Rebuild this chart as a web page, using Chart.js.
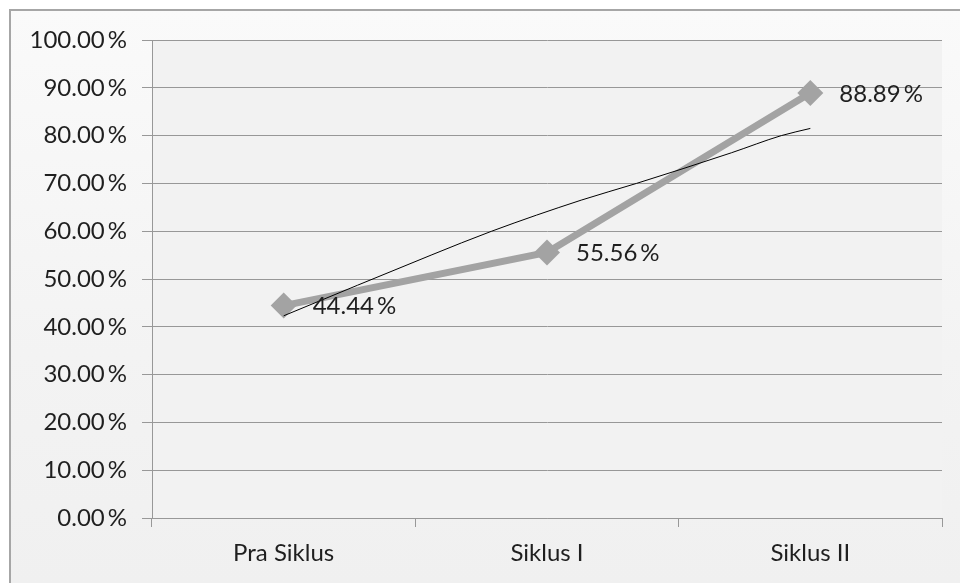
<!DOCTYPE html>
<html>
<head>
<meta charset="utf-8">
<style>
  html, body { margin: 0; padding: 0; background: #ffffff; }
  #wrap { width: 960px; height: 583px; position: relative; }
</style>
<script src="https://cdn.jsdelivr.net/npm/chart.js@4/dist/chart.umd.min.js"></script>
</head>
<body>
<div id="wrap"><canvas id="chart" width="960" height="583"></canvas></div>
<script>
// Learning-completeness percentage per cycle
const categories = ['Pra Siklus', 'Siklus I', 'Siklus II'];
const percentages = [44.44, 55.56, 88.89];

// Trend line traced along the cycles (x = cycle position, y = percent)
const trendX = [0, 0.56, 0.79, 1.13, 1.34, 1.70, 1.89, 2.0];
const trendY = [42.3, 55.0, 60.0, 66.5, 70.0, 76.4, 80.0, 81.5];

// Y-axis ticks in percent
const yTicks = [0, 10, 20, 30, 40, 50, 60, 70, 80, 90, 100];

const FONT = 'Lato, "Open Sans", sans-serif';
const TEXT = '#1f1f1f';
const GRID = '#989898';

const backdrop = {
  id: 'backdrop',
  beforeDraw(chart) {
    const { ctx, chartArea: a } = chart;
    ctx.save();
    ctx.fillStyle = '#ffffff';
    ctx.fillRect(0, 0, chart.width, chart.height);
    const g = ctx.createLinearGradient(0, 10, 0, chart.height);
    g.addColorStop(0, '#fafafa');
    g.addColorStop(0.6, '#f3f3f3');
    g.addColorStop(1, '#f0f0f0');
    ctx.fillStyle = g;
    ctx.fillRect(10, 10, chart.width, chart.height);
    ctx.strokeStyle = '#a6a6a6';
    ctx.lineWidth = 2;
    ctx.strokeRect(10, 10, chart.width + 10, chart.height + 10);
    ctx.fillStyle = '#f2f2f2';
    ctx.fillRect(a.left, a.top, a.right - a.left, a.bottom - a.top);
    ctx.restore();
  }
};

const valueLabels = {
  id: 'valueLabels',
  afterDatasetsDraw(chart) {
    const { ctx } = chart;
    const meta = chart.getDatasetMeta(0);
    ctx.save();
    ctx.font = '24px ' + FONT;
    ctx.fillStyle = TEXT;
    ctx.textAlign = 'left';
    ctx.textBaseline = 'middle';
    meta.data.forEach((pt, i) => {
      ctx.fillText(percentages[i].toFixed(2) + '\u2009%', pt.x + 29, pt.y + 1);
    });
    ctx.restore();
  }
};

new Chart(document.getElementById('chart'), {
  type: 'line',
  data: {
    labels: categories,
    datasets: [
      {
        label: 'Ketuntasan',
        data: percentages,
        borderColor: '#a3a3a3',
        backgroundColor: '#a3a3a3',
        borderWidth: 7,
        pointStyle: 'rectRot',
        pointRadius: 13,
        pointBorderWidth: 0,
        pointBackgroundColor: '#a3a3a3',
        tension: 0,
        order: 1
      },
      {
        label: 'Trend',
        data: trendX.map((x, i) => ({ x: x, y: trendY[i] })),
        xAxisID: 'xt',
        borderColor: '#000000',
        borderWidth: 1,
        pointRadius: 0,
        cubicInterpolationMode: 'monotone',
        order: 0
      }
    ]
  },
  options: {
    responsive: false,
    animation: false,
    layout: { padding: { left: 0, top: 40, right: 18, bottom: 0 } },
    plugins: { legend: { display: false }, tooltip: { enabled: false } },
    scales: {
      x: {
        type: 'category',
        offset: true,
        grid: {
          offset: true,
          drawOnChartArea: false,
          drawTicks: true,
          tickLength: 9,
          color: GRID,
          lineWidth: 1
        },
        border: { display: true, color: GRID, width: 1 },
        ticks: { color: TEXT, font: { family: FONT, size: 24 }, padding: 12, maxRotation: 0 },
        afterFit(s) { s.height = 65; }
      },
      xt: {
        type: 'linear',
        display: false,
        min: -0.5,
        max: 2.5
      },
      y: {
        min: 0,
        max: 100,
        afterBuildTicks(s) { s.ticks = yTicks.map(v => ({ value: v })); },
        grid: { color: GRID, lineWidth: 1, tickLength: 10, drawTicks: true },
        border: { display: true, color: GRID, width: 1 },
        ticks: {
          color: TEXT,
          font: { family: FONT, size: 24 },
          padding: 15,
          callback: v => v.toFixed(2) + '\u2009%'
        },
        afterFit(s) { s.width = 152; }
      }
    }
  },
  plugins: [backdrop, valueLabels]
});
</script>
</body>
</html>
